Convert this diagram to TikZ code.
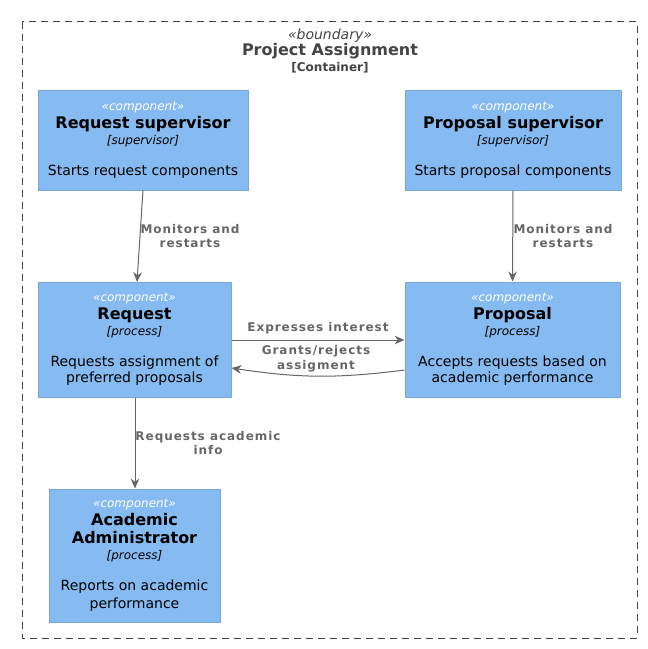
\documentclass[tikz,border=0pt]{standalone}
\usepackage{fontspec}
\setmainfont{DejaVu Sans}
\usetikzlibrary{arrows.meta}
\definecolor{compfill}{HTML}{85BBF0}
\definecolor{compline}{HTML}{78A8D8}
\definecolor{arrowgrey}{HTML}{666666}
\definecolor{boundgrey}{HTML}{444444}
\newcommand{\stereo}{\normalfont\fontsize{9}{12}\selectfont\itshape\color{white}}
\newcommand{\nm}{\normalfont\fontsize{12}{12}\selectfont\bfseries\color{black}}
\newcommand{\tech}{\normalfont\fontsize{9}{12}\selectfont\itshape\color{black}}
\newcommand{\desc}{\normalfont\fontsize{10.5}{12}\selectfont\color{black}}
\tikzset{
  comp/.style={draw=compline, line width=0.75pt, fill=compfill, align=center, inner sep=0pt,
    font=\fontsize{10.5}{12}\selectfont},
  rel/.style={draw=arrowgrey, line width=0.75pt, -{Stealth[length=7.5pt,width=6.5pt,inset=2.5pt]}},
  rellabel/.style={text=arrowgrey, font=\fontsize{9}{11}\selectfont\bfseries\addfontfeature{LetterSpace=8}, align=center, inner sep=0pt},
}
\begin{document}
\begin{tikzpicture}[x=0.75pt,y=-0.75pt]
\useasboundingbox (0,0) rectangle (647,649);
% boundary
\draw[boundgrey, line width=0.75pt, dash pattern=on 5.25pt off 3.75pt] (22,22) rectangle (637,638);
\node[text=boundgrey, font=\fontsize{10.5}{12}\selectfont\itshape, inner sep=0pt] (bster) at (330,35.5) {«boundary»};
\node[text=boundgrey, font=\fontsize{12}{14}\selectfont\bfseries, inner sep=0pt] (btitle) at (330,51.5) {Project Assignment};
\node[text=boundgrey, font=\fontsize{9}{11}\selectfont\bfseries, inner sep=0pt] (btype) at (330,67.5) {[Container]};
% components
\node[comp, minimum width=210*0.75pt, minimum height=99*0.75pt] (rs) at (143,140.5)
 {\stereo «component»\\[1.5pt]\nm Request supervisor\\\tech [supervisor]\\[11pt]\desc Starts request components};
\node[comp, minimum width=216*0.75pt, minimum height=99*0.75pt] (ps) at (513,140.5)
 {\stereo «component»\\[1.5pt]\nm Proposal supervisor\\\tech [supervisor]\\[11pt]\desc Starts proposal components};
\node[comp, minimum width=193*0.75pt, minimum height=115*0.75pt] (rq) at (134.5,339.5)
 {\stereo «component»\\[1.5pt]\nm Request\\\tech [process]\\[11pt]\desc Requests assignment of\\\desc preferred proposals};
\node[comp, minimum width=215*0.75pt, minimum height=115*0.75pt] (pr) at (512.5,339.5)
 {\stereo «component»\\[1.5pt]\nm Proposal\\\tech [process]\\[11pt]\desc Accepts requests based on\\\desc academic performance};
\node[comp, minimum width=171*0.75pt, minimum height=133*0.75pt] (aa) at (134.5,555.5)
 {\stereo «component»\\[1.5pt]\nm Academic\\[1.5pt]\nm Administrator\\\tech [process]\\[11pt]\desc Reports on academic\\[1.5pt]\desc performance};
% connectors
\coordinate (rsout) at (143,190);
\coordinate (rqin) at (137,282);
\draw[rel] (rsout) -- (rqin);
\node[rellabel] (l1) at (190,236) {Monitors and\\restarts};
\draw[rel] (ps.south) -- (pr.north);
\node[rellabel] (l2) at (563,236) {Monitors and\\restarts};
\draw[rel] (rq.east |- 0,340) -- (pr.west |- 0,340);
\node[rellabel] (l3) at (318,328) {Expresses interest};
\draw[rel] (pr.west |- 0,370) to[bend left=8] (rq.east |- 0,368);
\node[rellabel] (l4) at (316,359) {Grants/rejects\\assigment};
\draw[rel] (rq.south -| 135,0) -- (aa.north -| 135,0);
\node[rellabel] (l5) at (208,443) {Requests academic\\info};
\end{tikzpicture}
\end{document}
